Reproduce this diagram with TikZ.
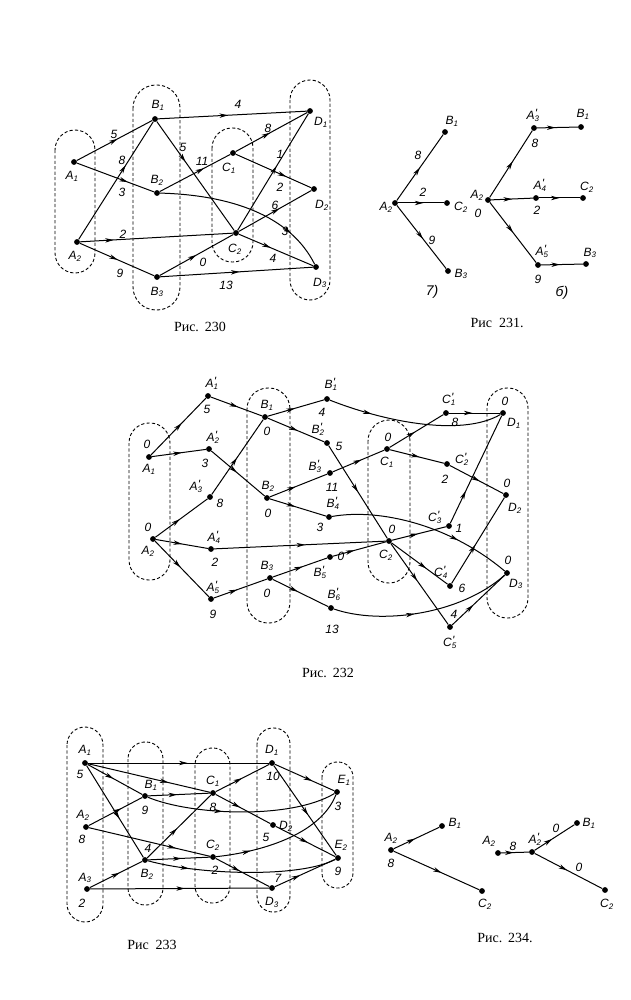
\documentclass[tikz,border=0pt]{standalone}
\usepackage{fontspec}
\setmainfont{Liberation Serif}
\newfontfamily\lab{Liberation Sans}
\usetikzlibrary{arrows.meta,decorations.markings}
\newcommand\Ls[2]{#1\textsubscript{#2}}
\newcommand\Lp[2]{#1\rlap{\kern0.3pt\raisebox{0.35ex}{'}}\textsubscript{#2}}
\begin{document}
\begin{tikzpicture}[x=1pt,y=-1pt,
 dot/.style={circle,fill=black,inner sep=0pt,minimum size=5.8pt},
 lbl/.style={inner sep=0pt,font=\lab\itshape\fontsize{12}{13}\selectfont},
 big/.style={inner sep=0pt,font=\lab\itshape\fontsize{14}{16}\selectfont},
 ln/.style={line width=1pt},
 ma/.style={postaction={decorate},decoration={markings,mark=at position #1 with {\arrow{Stealth[length=8.5pt,width=4.4pt,inset=2.5pt]}}}},
 ma/.default=0.5,
 oval/.style={line width=0.9pt,dash pattern=on 3.2pt off 2.2pt},
 capt/.style={inner sep=0pt,font=\fontsize{14}{16}\selectfont}]
\useasboundingbox[fill=white] (0,0) rectangle (630,1000);

% ================= Fig 230 =================
\draw[oval,rounded corners=20pt] (55,130) rectangle (95,273);
\draw[oval,rounded corners=23pt] (133,85) rectangle (180,310);
\draw[oval,rounded corners=20pt] (212,128) rectangle (253,262);
\draw[oval,rounded corners=20pt] (290,80) rectangle (330,300);
\node[dot] (a1) at (74,162) {};
\node[dot] (a2) at (77,242) {};
\node[dot] (b1) at (155,119) {};
\node[dot] (b2) at (157,193) {};
\node[dot] (b3) at (157,277) {};
\node[dot] (c1) at (233,153) {};
\node[dot] (c2) at (236,233) {};
\node[dot] (d1) at (310,111) {};
\node[dot] (d2) at (314,189) {};
\node[dot] (d3) at (316,267) {};
\draw[ln,ma=0.54] (a1) -- (b1);
\draw[ln,ma=0.66] (a1) -- (b2);
\draw[ln,ma=0.63] (a2) -- (b1);
\draw[ln,ma=0.22] (a2) -- (c2);
\draw[ln,ma=0.51] (a2) -- (b3);
\draw[ln,ma=0.47] (b1) -- (d1);
\draw[ln,ma=0.37] (b1) -- (c2);
\draw[ln,ma=0.63] (b2) -- (c1);
\draw[ln,ma=0.78] (b2) .. controls (230,195) and (290,215) .. (d3);
\draw[ln,ma=0.5] (b3) -- (c2);
\draw[ln,ma=0.52] (b3) -- (d3);
\draw[ln,ma=0.48] (c1) -- (d1);
\draw[ln,ma=0.67] (c1) -- (d2);
\draw[ln,ma=0.55] (c2) -- (d1);
\draw[ln,ma=0.56] (c2) -- (d2);
\draw[ln,ma=0.43] (c2) -- (d3);
\node[lbl] (ta1) at (72,176) {\Ls{A}{1}};
\node[lbl] (ta2) at (75,256) {\Ls{A}{2}};
\node[lbl] (tb1) at (158,105) {\Ls{B}{1}};
\node[lbl] (tb2) at (157,180) {\Ls{B}{2}};
\node[lbl] (tb3) at (157,292) {\Ls{B}{3}};
\node[lbl] (tc1) at (229,168) {\Ls{C}{1}};
\node[lbl] (tc2) at (235,249) {\Ls{C}{2}};
\node[lbl] (td1) at (321,122) {\Ls{D}{1}};
\node[lbl] (td2) at (322,205) {\Ls{D}{2}};
\node[lbl] (td3) at (320,283) {\Ls{D}{3}};
\node[lbl] (w1) at (114,134) {5};
\node[lbl] (w2) at (122,192) {3};
\node[lbl] (w3) at (122,160) {8};
\node[lbl] (w4) at (123,234) {2};
\node[lbl] (w5) at (120,273) {9};
\node[lbl] (w6) at (238,104) {4};
\node[lbl] (w7) at (183,147) {5};
\node[lbl] (w8) at (202,161) {11};
\node[lbl] (w9) at (285,231) {3};
\node[lbl] (w10) at (203,262) {0};
\node[lbl] (w11) at (226,285) {13};
\node[lbl] (w12) at (268,128) {8};
\node[lbl] (w13) at (280,187) {2};
\node[lbl] (w14) at (280,154) {1};
\node[lbl] (w15) at (275,205) {6};
\node[lbl] (w16) at (273,258) {4};
\node[capt] (cap230) at (200,327) {Рис.\hspace{6pt}230};

% ================= Fig 231 =================
\node[dot] (ua2) at (395,203) {};
\node[dot] (ub1) at (445,132) {};
\node[dot] (uc2) at (447,203) {};
\node[dot] (ub3) at (448,271) {};
\draw[ln,ma=0.5] (ua2) -- (ub1);
\draw[ln,ma=0.55] (ua2) -- (uc2);
\draw[ln,ma=0.53] (ua2) -- (ub3);
\node[lbl] (tua2) at (386,207) {\Ls{A}{2}};
\node[lbl] (tub1) at (452,121) {\Ls{B}{1}};
\node[lbl] (tuc2) at (461,207) {\Ls{C}{2}};
\node[lbl] (tub3) at (461,274) {\Ls{B}{3}};
\node[lbl] (u1) at (418,155) {8};
\node[lbl] (u2) at (423,192) {2};
\node[lbl] (u3) at (432,240) {9};
\node[big] (ua) at (432,292) {7)};
\node[dot] (va2) at (488,200) {};
\node[dot] (va3) at (534,128) {};
\node[dot] (vb1) at (581,127) {};
\node[dot] (va4) at (536,198) {};
\node[dot] (vc2) at (583,198) {};
\node[dot] (va5) at (538,265) {};
\node[dot] (vb3) at (586,264) {};
\draw[ln,ma=0.54] (va2) -- (va3);
\draw[ln,ma=0.45] (va3) -- (vb1);
\draw[ln,ma=0.5] (va2) -- (va4);
\draw[ln,ma=0.5] (va4) -- (vc2);
\draw[ln,ma=0.5] (va2) -- (va5);
\draw[ln,ma=0.45] (va5) -- (vb3);
\node[lbl] (tva2) at (477,195) {\Ls{A}{2}};
\node[lbl] (v0) at (478,213) {0};
\node[lbl] (tva3) at (533,115) {\Lp{A}{3}};
\node[lbl] (v8) at (535,143) {8};
\node[lbl] (tvb1) at (583,114) {\Ls{B}{1}};
\node[lbl] (tva4) at (540,185) {\Lp{A}{4}};
\node[lbl] (v2) at (537,210) {2};
\node[lbl] (tvc2) at (587,187) {\Ls{C}{2}};
\node[lbl] (tva5) at (542,251) {\Lp{A}{5}};
\node[lbl] (v9) at (538,279) {9};
\node[lbl] (tvb3) at (590,253) {\Ls{B}{3}};
\node[big] (vb) at (562,293) {б)};
\node[capt] (cap231) at (497,323) {Рис\hspace{7pt}231.};

% ================= Fig 232 =================
\draw[oval,rounded corners=20pt] (129,423) rectangle (170,580);
\draw[oval,rounded corners=21pt] (247,388) rectangle (290,623);
\draw[oval,rounded corners=21pt] (368,420) rectangle (410,583);
\draw[oval,rounded corners=20pt] (487,388) rectangle (528,618);
\node[dot] (wa1) at (149,457) {};
\node[dot] (wa2) at (153,539) {};
\node[dot] (wa1p) at (208,396) {};
\node[dot] (wa2p) at (209,449) {};
\node[dot] (wa3p) at (210,497) {};
\node[dot] (wa4p) at (211,549) {};
\node[dot] (wa5p) at (211,599) {};
\node[dot] (wb1) at (265,417) {};
\node[dot] (wb2) at (267,498) {};
\node[dot] (wb3) at (270,578) {};
\node[dot] (wb1p) at (327,399) {};
\node[dot] (wb2p) at (327,443) {};
\node[dot] (wb3p) at (330,473) {};
\node[dot] (wb4p) at (329,517) {};
\node[dot] (wb5p) at (330,557) {};
\node[dot] (wb6p) at (331,608) {};
\node[dot] (wc1) at (387,449) {};
\node[dot] (wc2) at (389,541) {};
\node[dot] (wc1p) at (446,413) {};
\node[dot] (wc2p) at (447,464) {};
\node[dot] (wc3p) at (449,526) {};
\node[dot] (wc4p) at (450,586) {};
\node[dot] (wc5p) at (450,627) {};
\node[dot] (wd1) at (503,413) {};
\node[dot] (wd2) at (506,495) {};
\node[dot] (wd3) at (507,573) {};
\draw[ln,ma=0.56] (wa1) -- (wa1p);
\draw[ln,ma=0.55] (wa1) -- (wa2p);
\draw[ln,ma=0.47] (wa2) -- (wa3p);
\draw[ln,ma=0.5] (wa2) -- (wa4p);
\draw[ln,ma=0.47] (wa2) -- (wa5p);
\draw[ln,ma=0.53] (wa1p) -- (wb1);
\draw[ln,ma=0.48] (wa2p) -- (wb2);
\draw[ln,ma=0.49] (wa3p) -- (wb1);
\draw[ln,ma=0.53] (wa4p) -- (wc2);
\draw[ln,ma=0.44] (wa5p) -- (wb3);
\draw[ln,ma=0.48] (wb1) -- (wb1p);
\draw[ln,ma=0.53] (wb1) -- (wb2p);
\draw[ln,ma=0.45] (wb2) -- (wb3p);
\draw[ln,ma=0.45] (wb2) -- (wb4p);
\draw[ln,ma=0.55] (wb3) -- (wb5p);
\draw[ln,ma=0.45] (wb3) -- (wb6p);
\draw[ln,ma=0.25] (wb1p) .. controls (380,420) and (460,438) .. (wd1);
\draw[ln,ma=0.5] (wb2p) -- (wc2);
\draw[ln,ma=0.56] (wb3p) -- (wc1);
\draw[ln,ma=0.7] (wb4p) .. controls (380,508) and (450,525) .. (wd3);
\draw[ln,ma=0.4] (wb5p) -- (wc2);
\draw[ln,ma=0.45] (wb6p) .. controls (380,625) and (460,615) .. (wd3);
\draw[ln,ma=0.47] (wc1) -- (wc1p);
\draw[ln,ma=0.55] (wc1) -- (wc2p);
\draw[ln,ma=0.48] (wc2) -- (wc3p);
\draw[ln,ma=0.62] (wc2) -- (wc4p);
\draw[ln,ma=0.46] (wc2) -- (wc5p);
\draw[ln,ma=0.46] (wc1p) -- (wd1);
\draw[ln,ma=0.56] (wc2p) -- (wd2);
\draw[ln,ma=0.3] (wc3p) -- (wd1);
\draw[ln,ma=0.45] (wc4p) -- (wd2);
\draw[ln,ma=0.4] (wc5p) -- (wd3);
\node[lbl] (x1) at (147,444) {0};
\node[lbl] (x2) at (149,469) {\Ls{A}{1}};
\node[lbl] (x3) at (148,527) {0};
\node[lbl] (x4) at (148,551) {\Ls{A}{2}};
\node[lbl] (x5) at (212,383) {\Lp{A}{1}};
\node[lbl] (x6) at (207,409) {5};
\node[lbl] (x7) at (213,437) {\Lp{A}{2}};
\node[lbl] (x8) at (205,463) {3};
\node[lbl] (x9) at (196,486) {\Lp{A}{3}};
\node[lbl] (x10) at (220,503) {8};
\node[lbl] (x11) at (214,537) {\Lp{A}{4}};
\node[lbl] (x12) at (215,562) {2};
\node[lbl] (x13) at (213,587) {\Lp{A}{5}};
\node[lbl] (x14) at (213,614) {9};
\node[lbl] (x15) at (267,405) {\Ls{B}{1}};
\node[lbl] (x16) at (267,431) {0};
\node[lbl] (x17) at (268,486) {\Ls{B}{2}};
\node[lbl] (x18) at (268,513) {0};
\node[lbl] (x19) at (267,566) {\Ls{B}{3}};
\node[lbl] (x20) at (267,593) {0};
\node[lbl] (x21) at (331,384) {\Lp{B}{1}};
\node[lbl] (x22) at (322,412) {4};
\node[lbl] (x23) at (318,429) {\Lp{B}{2}};
\node[lbl] (x24) at (339,446) {5};
\node[lbl] (x25) at (315,466) {\Lp{B}{3}};
\node[lbl] (x26) at (332,487) {11};
\node[lbl] (x27) at (333,503) {\Lp{B}{4}};
\node[lbl] (x28) at (320,527) {3};
\node[lbl] (x29) at (320,572) {\Lp{B}{5}};
\node[lbl] (x30) at (341,556) {0};
\node[lbl] (x31) at (334,594) {\Lp{B}{6}};
\node[lbl] (x32) at (332,629) {13};
\node[lbl] (x33) at (388,437) {0};
\node[lbl] (x34) at (387,462) {\Ls{C}{1}};
\node[lbl] (x35) at (392,529) {0};
\node[lbl] (x36) at (386,555) {\Ls{C}{2}};
\node[lbl] (x37) at (449,399) {\Lp{C}{1}};
\node[lbl] (x38) at (455,422) {8};
\node[lbl] (x39) at (462,459) {\Lp{C}{2}};
\node[lbl] (x40) at (445,479) {2};
\node[lbl] (x41) at (435,517) {\Lp{C}{3}};
\node[lbl] (x42) at (459,528) {1};
\node[lbl] (x43) at (441,572) {\Lp{C}{4}};
\node[lbl] (x44) at (462,588) {6};
\node[lbl] (x45) at (454,614) {4};
\node[lbl] (x46) at (450,642) {\Lp{C}{5}};
\node[lbl] (x47) at (505,401) {0};
\node[lbl] (x48) at (514,423) {\Ls{D}{1}};
\node[lbl] (x49) at (507,483) {0};
\node[lbl] (x50) at (515,508) {\Ls{D}{2}};
\node[lbl] (x51) at (508,560) {0};
\node[lbl] (x52) at (516,584) {\Ls{D}{3}};
\node[capt] (cap232) at (328,673) {Рис.\hspace{6pt}232};

% ================= Fig 233 =================
\draw[oval,rounded corners=18pt] (67,727) rectangle (103,922);
\draw[oval,rounded corners=17pt] (128,742) rectangle (163,905);
\draw[oval,rounded corners=17pt] (195,748) rectangle (230,903);
\draw[oval,rounded corners=16pt] (257,728) rectangle (290,912);
\draw[oval,rounded corners=15pt] (322,762) rectangle (353,888);
\node[dot] (ya1) at (85,763) {};
\node[dot] (ya2) at (86,827) {};
\node[dot] (ya3) at (87,889) {};
\node[dot] (yb1) at (145,796) {};
\node[dot] (yb2) at (145,860) {};
\node[dot] (yc1) at (213,793) {};
\node[dot] (yc2) at (213,857) {};
\node[dot] (yd1) at (272,763) {};
\node[dot] (yd2) at (273,825) {};
\node[dot] (yd3) at (272,888) {};
\node[dot] (ye1) at (337,792) {};
\node[dot] (ye2) at (338,858) {};
\draw[ln,ma=0.55] (ya1) -- (yd1);
\draw[ln,ma=0.66] (ya1) -- (yc1);
\draw[ln,ma=0.47] (ya1) -- (yb1);
\draw[ln,ma=0.58] (ya1) -- (yb2);
\draw[ln,ma=0.61] (ya2) -- (yb1);
\draw[ln,ma=0.72] (ya2) -- (yc2);
\draw[ln,ma=0.57] (ya3) -- (yb2);
\draw[ln,ma=0.53] (ya3) -- (yd3);
\draw[ln,ma=0.47] (yb1) -- (yc1);
\draw[ln,ma=0.4] (yb1) .. controls (190,815) and (290,820) .. (ye1);
\draw[ln,ma=0.47] (yb2) -- (yc1);
\draw[ln,ma=0.54] (yb2) -- (yc2);
\draw[ln,ma=0.22] (yb2) .. controls (200,875) and (300,878) .. (ye2);
\draw[ln,ma=0.49] (yc1) -- (yd1);
\draw[ln,ma=0.45] (yc1) -- (yd2);
\draw[ln,ma=0.45] (yc2) -- (yd3);
\draw[ln,ma=0.25] (yc2) .. controls (260,852) and (320,835) .. (ye1);
\draw[ln,ma=0.63] (yd1) -- (ye1);
\draw[ln,ma=0.55] (yd1) -- (ye2);
\draw[ln,ma=0.54] (yd2) -- (ye2);
\draw[ln,ma=0.42] (yd3) -- (ye2);
\node[lbl] (y1) at (85,750) {\Ls{A}{1}};
\node[lbl] (y2) at (80,774) {5};
\node[lbl] (y3) at (83,815) {\Ls{A}{2}};
\node[lbl] (y4) at (82,839) {8};
\node[lbl] (y5) at (85,878) {\Ls{A}{3}};
\node[lbl] (y6) at (82,903) {2};
\node[lbl] (y7) at (151,785) {\Ls{B}{1}};
\node[lbl] (y8) at (145,810) {9};
\node[lbl] (y9) at (148,848) {4};
\node[lbl] (y10) at (147,874) {\Ls{B}{2}};
\node[lbl] (y11) at (213,781) {\Ls{C}{1}};
\node[lbl] (y12) at (213,807) {8};
\node[lbl] (y13) at (213,845) {\Ls{C}{2}};
\node[lbl] (y14) at (215,870) {2};
\node[lbl] (y15) at (272,750) {\Ls{D}{1}};
\node[lbl] (y16) at (273,776) {10};
\node[lbl] (y17) at (286,826) {\Ls{D}{2}};
\node[lbl] (y18) at (266,837) {5};
\node[lbl] (y19) at (278,878) {7};
\node[lbl] (y20) at (272,902) {\Ls{D}{3}};
\node[lbl] (y21) at (344,780) {\Ls{E}{1}};
\node[lbl] (y22) at (338,806) {3};
\node[lbl] (y23) at (341,845) {\Ls{E}{2}};
\node[lbl] (y24) at (338,871) {9};
\node[capt] (cap233) at (152,945) {Рис\hspace{7pt}233};

% ================= Fig 234 =================
\node[dot] (za2) at (391,850) {};
\node[dot] (zb1) at (442,826) {};
\node[dot] (zc2) at (482,891) {};
\draw[ln,ma=0.47] (za2) -- (zb1);
\draw[ln,ma=0.56] (za2) -- (zc2);
\node[lbl] (z1) at (391,838) {\Ls{A}{2}};
\node[lbl] (z2) at (391,863) {8};
\node[lbl] (z3) at (455,823) {\Ls{B}{1}};
\node[lbl] (z4) at (485,904) {\Ls{C}{2}};
\node[dot] (qa2) at (498,853) {};
\node[dot] (qa2p) at (532,852) {};
\node[dot] (qb1) at (577,823) {};
\node[dot] (qc2) at (605,890) {};
\draw[ln,ma=0.45] (qa2) -- (qa2p);
\draw[ln,ma=0.44] (qa2p) -- (qb1);
\draw[ln,ma=0.48] (qa2p) -- (qc2);
\node[lbl] (q1) at (489,841) {\Ls{A}{2}};
\node[lbl] (q2) at (535,839) {\Lp{A}{2}};
\node[lbl] (q3) at (513,846) {8};
\node[lbl] (q4) at (589,823) {\Ls{B}{1}};
\node[lbl] (q5) at (556,828) {0};
\node[lbl] (q6) at (607,904) {\Ls{C}{2}};
\node[lbl] (q7) at (579,867) {0};
\node[capt] (cap234) at (505,938) {Рис.\hspace{6pt}234.};
\end{tikzpicture}
\end{document}
